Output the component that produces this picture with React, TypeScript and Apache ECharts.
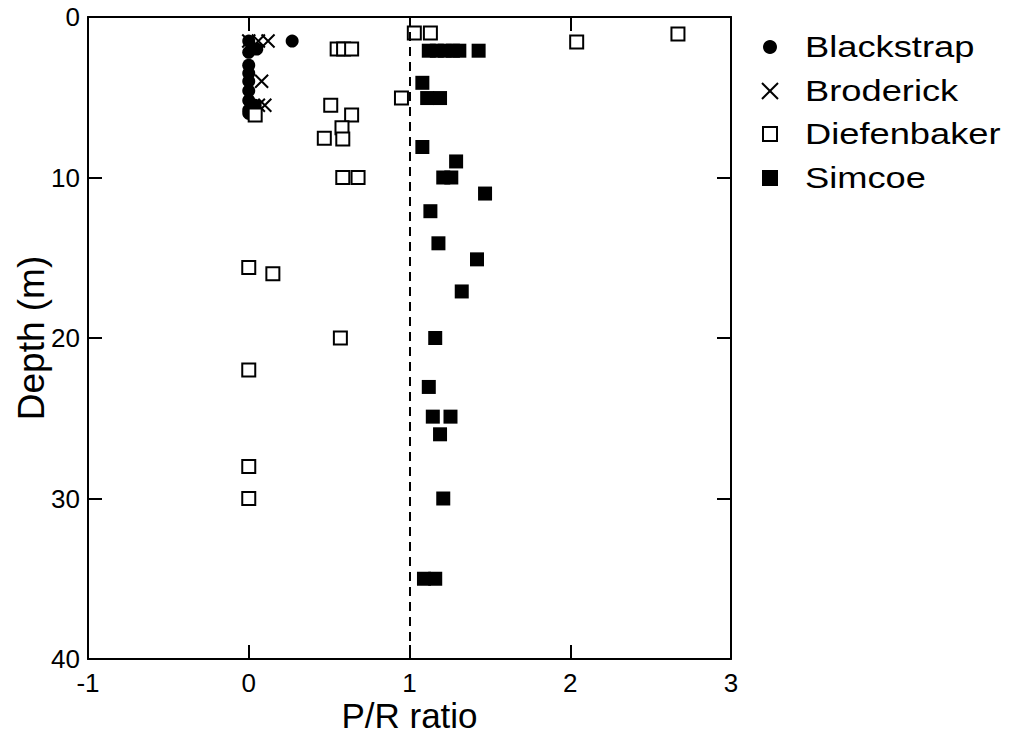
import React, { useEffect, useRef } from "react";
import * as echarts from "echarts";

const xTicks = [-1, 0, 1, 2, 3];
const yTicks = [0, 10, 20, 30, 40];
const seriesNames = ["Blackstrap", "Broderick", "Diefenbaker", "Simcoe"];

const blackstrapPR = [0, 0.02, 0.05, 0.27, 0.0, 0, 0, 0, 0, 0, 0.04, 0, 0.0];
const blackstrapDepth = [1.5, 2, 2, 1.5, 2.2, 3, 3.5, 4, 4.6, 5.2, 5.5, 5.8, 6];

const broderickPR = [0.0, 0.06, 0.12, 0.08, 0.1, 0.06];
const broderickDepth = [1.5, 1.5, 1.5, 4, 5.5, 5.5];

const diefenbakerPR = [1.03, 1.13, 2.04, 2.67, 0.55, 0.59, 0.64, 0.95, 0.51, 0.64, 0.04, 0.58, 0.47, 0.585, 0.585, 0.68, 0, 0.15, 0.57, 0, 0, 0];
const diefenbakerDepth = [1.0, 1.0, 1.56, 1.06, 2, 2, 2, 5.05, 5.5, 6.1, 6.1, 6.9, 7.55, 7.6, 10, 10, 15.6, 16, 20, 22, 28, 30];

const simcoePR = [1.12, 1.17, 1.22, 1.27, 1.31, 1.43, 1.08, 1.11, 1.19, 1.08, 1.29, 1.21, 1.26, 1.47, 1.13, 1.18, 1.42, 1.325, 1.16, 1.12, 1.145, 1.255, 1.19, 1.21, 1.09, 1.16];
const simcoeDepth = [2.1, 2.1, 2.1, 2.1, 2.1, 2.1, 4.1, 5.05, 5.05, 8.1, 9.0, 10, 10, 11, 12.1, 14.1, 15.1, 17.1, 20, 23.05, 24.9, 24.9, 26, 30, 35, 35];

const refLineX = 1;

const zip = (xs: number[], ys: number[]) => xs.map((x, i) => [x, ys[i]]);

const FONT = "Liberation Sans, Arial, sans-serif";
const CROSS = "path://M0,0L10,10M10,0L0,10";

function legendGraphics() {
  const mx = 770;
  const tx = 805;
  const ys = [47, 91, 134, 178];
  const els: any[] = [];
  const icons = [
    { type: "circle", shape: { cx: mx, cy: ys[0], r: 7 }, style: { fill: "#000" } },
    {
      type: "group",
      children: [
        { type: "line", shape: { x1: mx - 8, y1: ys[1] - 8, x2: mx + 8, y2: ys[1] + 8 }, style: { stroke: "#000", lineWidth: 2 } },
        { type: "line", shape: { x1: mx + 8, y1: ys[1] - 8, x2: mx - 8, y2: ys[1] + 8 }, style: { stroke: "#000", lineWidth: 2 } },
      ],
    },
    { type: "rect", shape: { x: mx - 7, y: ys[2] - 7, width: 14, height: 14 }, style: { fill: "#fff", stroke: "#000", lineWidth: 2 } },
    { type: "rect", shape: { x: mx - 8, y: ys[3] - 8, width: 16, height: 16 }, style: { fill: "#000" } },
  ];
  seriesNames.forEach((name, i) => {
    els.push(icons[i]);
    els.push({
      type: "text",
      x: tx,
      y: ys[i],
      scaleX: 1.21,
      style: {
        text: name,
        fill: "#000",
        font: `30px ${FONT}`,
        fontSize: 30,
        fontFamily: FONT,
        textAlign: "left",
        textVerticalAlign: "middle",
        verticalAlign: "middle",
      },
    });
  });
  return els;
}

export default function App() {
  const ref = useRef<HTMLDivElement>(null);
  useEffect(() => {
    if (!ref.current) return;
    const chart = echarts.init(ref.current, null, { renderer: "svg" });
    const axisCommon = {
      type: "value" as const,
      axisLine: { show: true, onZero: false, lineStyle: { color: "#000", width: 2 } },
      axisTick: { show: true, inside: true, length: 14, lineStyle: { color: "#000", width: 2 } },
      splitLine: { show: false },
      nameMoveOverlap: false,
    };
    chart.setOption({
      animation: false,
      backgroundColor: "#fff",
      textStyle: { fontFamily: FONT },
      grid: { left: 88, top: 17, width: 643, height: 642, containLabel: false, outerBoundsMode: "none" },
      xAxis: [
        {
          ...axisCommon,
          position: "bottom",
          min: xTicks[0],
          max: xTicks[xTicks.length - 1],
          interval: 1,
          name: "P/R ratio",
          nameLocation: "middle",
          nameGap: 38,
          nameTextStyle: { fontSize: 35, color: "#000", fontFamily: FONT, lineHeight: 36, verticalAlign: "top" },
          axisLabel: { fontSize: 26, color: "#000", margin: 11, lineHeight: 26, fontFamily: FONT },
        },
        {
          ...axisCommon,
          position: "top",
          min: xTicks[0],
          max: xTicks[xTicks.length - 1],
          interval: 1,
          axisLabel: { show: false },
        },
      ],
      yAxis: [
        {
          ...axisCommon,
          position: "left",
          inverse: true,
          min: yTicks[0],
          max: yTicks[yTicks.length - 1],
          interval: 10,
          name: "Depth (m)",
          nameLocation: "middle",
          nameGap: 38,
          nameTextStyle: { fontSize: 37, color: "#000", fontFamily: FONT },
          axisLabel: { fontSize: 26, color: "#000", margin: 8, fontFamily: FONT },
        },
        {
          ...axisCommon,
          position: "right",
          inverse: true,
          min: yTicks[0],
          max: yTicks[yTicks.length - 1],
          interval: 10,
          axisLabel: { show: false },
        },
      ],
      graphic: legendGraphics(),
      series: [
        {
          name: seriesNames[0],
          type: "scatter",
          symbol: "circle",
          symbolSize: 13,
          itemStyle: { color: "#000", opacity: 1 },
          data: zip(blackstrapPR, blackstrapDepth),
          markLine: {
            silent: true,
            symbol: "none",
            label: { show: false },
            lineStyle: { color: "#000", type: [9, 6], width: 2 },
            data: [{ xAxis: refLineX }],
          },
          z: 2,
        },
        {
          name: seriesNames[1],
          type: "scatter",
          symbol: CROSS,
          symbolSize: 13,
          itemStyle: { color: "rgba(0,0,0,0)", borderColor: "#000", borderWidth: 2, opacity: 1 },
          data: zip(broderickPR, broderickDepth),
          z: 3,
        },
        {
          name: seriesNames[2],
          type: "scatter",
          symbol: "rect",
          symbolSize: 13,
          itemStyle: { color: "#fff", borderColor: "#000", borderWidth: 2, opacity: 1 },
          data: zip(diefenbakerPR, diefenbakerDepth),
          z: 4,
        },
        {
          name: seriesNames[3],
          type: "scatter",
          symbol: "rect",
          symbolSize: 14,
          itemStyle: { color: "#000", opacity: 1 },
          data: zip(simcoePR, simcoeDepth),
          z: 5,
        },
      ],
    });
    return () => chart.dispose();
  }, []);
  return <div ref={ref} style={{ width: 1010, height: 740, position: "absolute", left: 0, top: 0 }} />;
}
